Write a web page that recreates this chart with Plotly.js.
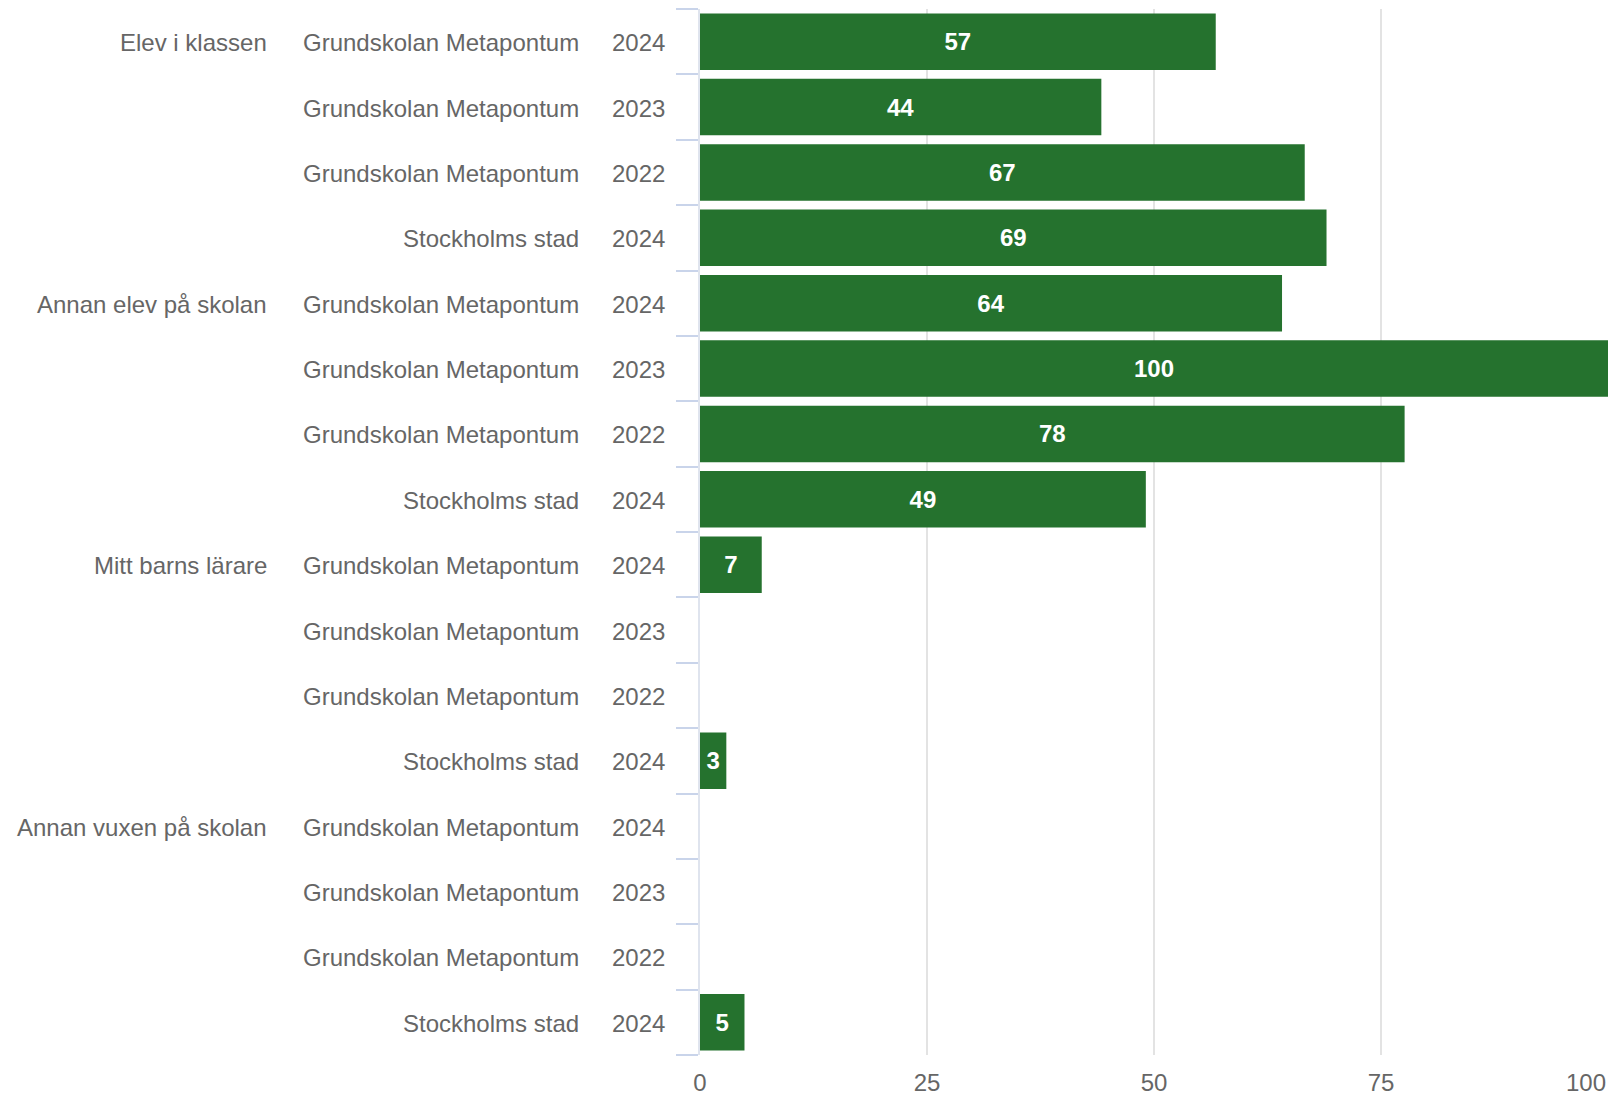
<!DOCTYPE html>
<html>
<head>
<meta charset="utf-8">
<script src="https://cdn.plot.ly/plotly-3.0.1.min.js"></script>
<style>html,body{margin:0;padding:0;background:#fff}#chart{width:1614px;height:1098px}</style>
</head>
<body>
<div id="chart"></div>
<script>
const groups = ["Elev i klassen","","","","Annan elev på skolan","","","","Mitt barns lärare","","","","Annan vuxen på skolan","","",""];
const schools = ["Grundskolan Metapontum","Grundskolan Metapontum","Grundskolan Metapontum","Stockholms stad",
                 "Grundskolan Metapontum","Grundskolan Metapontum","Grundskolan Metapontum","Stockholms stad",
                 "Grundskolan Metapontum","Grundskolan Metapontum","Grundskolan Metapontum","Stockholms stad",
                 "Grundskolan Metapontum","Grundskolan Metapontum","Grundskolan Metapontum","Stockholms stad"];
const years = ["2024","2023","2022","2024","2024","2023","2022","2024","2024","2023","2022","2024","2024","2023","2022","2024"];
const values = [56.8,44.2,66.6,69.0,64.1,100,77.6,49.1,6.8,null,null,2.9,null,null,null,4.9];
const xTicks = [0,25,50,75,100];
const xTickText = ["0","25","50","75","100"];

const idx = values.map((_, i) => i);
const boundaries = [];
for (let i = 0; i <= values.length; i++) boundaries.push(i - 0.5);

const FONT = "Liberation Sans, Arial, sans-serif";
const GRAY = "#666666";

const trace = {
  type: "bar",
  orientation: "h",
  x: values,
  y: idx,
  marker: {color: "#25722e"},
  texttemplate: "%{x:.0f}",
  textposition: "inside",
  insidetextanchor: "middle",
  constraintext: "none",
  textfont: {family: FONT, size: 24, color: "#ffffff", weight: "bold"},
  hoverinfo: "none"
};

const annotations = [];
idx.forEach(i => {
  if (groups[i]) annotations.push({xref:"paper", yref:"y", x:(269-700)/908, y:i, yshift:-1, text:groups[i], showarrow:false, xanchor:"right", yanchor:"middle", font:{family:FONT, size:24, color:GRAY}});
  annotations.push({xref:"paper", yref:"y", x:(581-700)/908, y:i, yshift:-1, text:schools[i], showarrow:false, xanchor:"right", yanchor:"middle", font:{family:FONT, size:24, color:GRAY}});
  annotations.push({xref:"paper", yref:"y", x:(667-700)/908, y:i, yshift:-1, text:years[i], showarrow:false, xanchor:"right", yanchor:"middle", font:{family:FONT, size:24, color:GRAY}});
});

// the last tick label is right-aligned to its tick so it stays inside the chart, as in the reference
const lastTick = xTicks.length - 1;
const tickTextShown = xTickText.map((t, i) => i === lastTick ? "" : t);
annotations.push({xref:"x", yref:"paper", x:xTicks[lastTick], y:0, yshift:-12, text:xTickText[lastTick], showarrow:false, xanchor:"right", yanchor:"top", font:{family:FONT, size:24, color:GRAY}});

const layout = {
  width: 1614, height: 1098,
  margin: {l: 700, r: 6, t: 9, b: 43},
  paper_bgcolor: "#fff", plot_bgcolor: "#fff",
  showlegend: false,
  bargap: 0.135,
  font: {family: FONT, size: 24, color: GRAY},
  xaxis: {
    range: [0, 100], tickvals: xTicks, ticktext: tickTextShown,
    showgrid: true, gridcolor: "#e3e3e3", gridwidth: 2,
    zeroline: false,
    showline: false, ticks: "", ticklabelstandoff: 11,
    tickfont: {family: FONT, size: 24, color: GRAY}, fixedrange: true
  },
  yaxis: {
    range: [values.length - 0.5, -0.5],
    tickvals: boundaries, ticktext: boundaries.map(() => ""),
    ticks: "outside", ticklen: 22, tickcolor: "#c9d4ea", tickwidth: 2,
    showline: true, linecolor: "#dfe4ee", linewidth: 2,
    showgrid: false, zeroline: false, fixedrange: true
  },
  annotations: annotations
};

Plotly.newPlot("chart", [trace], layout, {displayModeBar: false, staticPlot: true});
</script>
</body>
</html>
